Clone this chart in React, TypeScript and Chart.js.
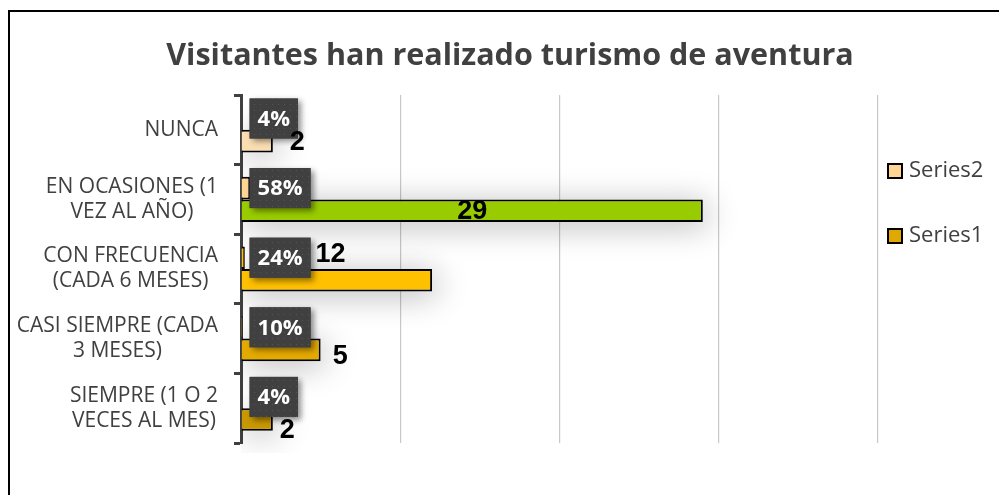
import { useEffect, useRef } from "react";
import { Chart, registerables } from "chart.js";

Chart.register(...registerables);

const chartTitle = "Visitantes han realizado turismo de aventura";
const categories: string[][] = [
  ["NUNCA"],
  ["EN OCASIONES (1", "VEZ AL AÑO)"],
  ["CON FRECUENCIA", "(CADA 6 MESES)"],
  ["CASI SIEMPRE (CADA", "3 MESES)"],
  ["SIEMPRE (1 O 2", "VECES AL MES)"],
];
const series1Name = "Series1";
const series2Name = "Series2";
const series1Values = [2, 29, 12, 5, 2];
const series2Values = [0.04, 0.58, 0.24, 0.1, 0.04];
const series1Colors = ["#FBDDB2", "#99CC00", "#FFC000", "#E5AA00", "#C99700"];
const series2Colors = ["#FFD594", "#FFD594", "#FFC000", "#E5AA00", "#C99700"];
const legendColors = ["#FFD594", "#E0A800"];
const xMax = 40;
const xStep = 10;

// label placement styles for series1 value labels: [anchor, dx, dy]
const s1LabelStyle: [string, number, number][] = [
  ["end", 17, 0],
  ["center", 0, 0],
  ["base", 74, -27],
  ["end", 12, 6],
  ["end", 7, 10],
];

const LABEL_FONT = "'Open Sans', sans-serif";

function makeDotPattern(ctx: CanvasRenderingContext2D) {
  const c = document.createElement("canvas");
  c.width = 6;
  c.height = 6;
  const p = c.getContext("2d")!;
  p.fillStyle = "#404040";
  p.fillRect(0, 0, 6, 6);
  p.fillStyle = "#555555";
  p.fillRect(2, 2, 1, 1);
  return ctx.createPattern(c, "repeat");
}

const customPlugin = {
  id: "custom",
  beforeDatasetsDraw(chart: any) {
    const ctx = chart.ctx as CanvasRenderingContext2D;
    const area = chart.chartArea;
    ctx.save();
    ctx.beginPath();
    ctx.rect(area.left, area.top - 10, area.right - area.left + 60, area.bottom - area.top + 20);
    ctx.clip();
    const off = 5000;
    ctx.shadowColor = "rgba(0,0,0,0.30)";
    ctx.shadowBlur = 32;
    ctx.shadowOffsetX = off + 4;
    ctx.shadowOffsetY = 4;
    ctx.fillStyle = "#000";
    [0, 1].forEach((d) => {
      chart.getDatasetMeta(d).data.forEach((el: any) => {
        const h = el.height;
        ctx.fillRect(el.base - off, el.y - h / 2, el.x - el.base, h);
      });
    });
    ctx.restore();
  },
  afterDatasetsDraw(chart: any) {
    const ctx = chart.ctx as CanvasRenderingContext2D;
    const area = chart.chartArea;

    // title
    ctx.save();
    ctx.fillStyle = "#404040";
    ctx.font = `bold 30.5px ${LABEL_FONT}`;
    ctx.textAlign = "center";
    ctx.textBaseline = "middle";
    ctx.fillText(chartTitle, 510, 56);
    ctx.restore();

    // category labels
    const yScale = chart.scales.y;
    ctx.save();
    ctx.fillStyle = "#404040";
    ctx.font = `21px ${LABEL_FONT}`;
    ctx.textAlign = "center";
    ctx.textBaseline = "middle";
    const lineH = 25;
    categories.forEach((lines, i) => {
      const cy = yScale.getPixelForValue(i);
      const w = Math.max(...lines.map((l) => ctx.measureText(l).width));
      const cx = area.left - 23 - w / 2;
      lines.forEach((l, j) => {
        ctx.fillText(l, cx, cy + (j - (lines.length - 1) / 2) * lineH);
      });
    });
    ctx.restore();

    // series2 percent boxes
    const pattern = makeDotPattern(ctx);
    const meta2 = chart.getDatasetMeta(0);
    meta2.data.forEach((el: any, i: number) => {
      const txt = `${Math.round(series2Values[i] * 100)}%`;
      ctx.save();
      ctx.font = `bold 22px ${LABEL_FONT}`;
      const tw = ctx.measureText(txt).width;
      const bw = tw + 16;
      const bh = 40;
      const bx = el.base + 8;
      const by = el.y - bh / 2;
      ctx.shadowColor = "rgba(0,0,0,0.45)";
      ctx.shadowBlur = 6;
      ctx.shadowOffsetX = 3;
      ctx.shadowOffsetY = 3;
      ctx.fillStyle = "#404040";
      ctx.fillRect(bx, by, bw, bh);
      ctx.shadowColor = "transparent";
      if (pattern) {
        ctx.fillStyle = pattern;
        ctx.fillRect(bx, by, bw, bh);
      }
      ctx.fillStyle = "#ffffff";
      ctx.textAlign = "center";
      ctx.textBaseline = "middle";
      ctx.fillText(txt, bx + bw / 2, el.y + 1);
      ctx.restore();
    });

    // series1 value labels
    const meta1 = chart.getDatasetMeta(1);
    meta1.data.forEach((el: any, i: number) => {
      const [anchor, dx, dy] = s1LabelStyle[i];
      const txt = String(series1Values[i]);
      ctx.save();
      ctx.font = `bold 27px 'Liberation Sans', Arial, sans-serif`;
      ctx.fillStyle = "#000000";
      ctx.textBaseline = "middle";
      if (anchor === "center") {
        ctx.textAlign = "center";
        ctx.fillText(txt, (el.base + el.x) / 2 + dx, el.y + dy + 1);
      } else if (anchor === "base") {
        ctx.textAlign = "left";
        ctx.fillText(txt, el.base + dx, el.y + dy + 1);
      } else {
        ctx.textAlign = "left";
        ctx.fillText(txt, el.x + dx, el.y + dy + 1);
      }
      ctx.restore();
    });

    // legend
    const names = [series2Name, series1Name];
    ctx.save();
    ctx.font = `22px ${LABEL_FONT}`;
    ctx.textBaseline = "middle";
    ctx.textAlign = "left";
    names.forEach((n, i) => {
      const cy = area.top + 76 + i * 65;
      const bx = area.right + 10;
      ctx.fillStyle = legendColors[i];
      ctx.fillRect(bx, cy - 7, 14, 14);
      ctx.strokeStyle = "#000";
      ctx.lineWidth = 2;
      ctx.strokeRect(bx, cy - 7, 14, 14);
      ctx.fillStyle = "#404040";
      ctx.fillText(n, bx + 21, cy);
    });
    ctx.restore();
  },
};

export default function App() {
  const ref = useRef<HTMLCanvasElement | null>(null);
  useEffect(() => {
    if (!ref.current) return;
    const chart = new Chart(ref.current, {
      type: "bar",
      data: {
        labels: categories.map((c) => c.join(" ")),
        datasets: [
          {
            label: series2Name,
            data: series2Values,
            backgroundColor: series2Colors,
            borderColor: "#000000",
            borderWidth: 2,
            categoryPercentage: 0.65,
            barPercentage: 1,
          },
          {
            label: series1Name,
            data: series1Values,
            backgroundColor: series1Colors,
            borderColor: "#000000",
            borderWidth: 2,
            categoryPercentage: 0.65,
            barPercentage: 1,
          },
        ],
      },
      options: {
        indexAxis: "y",
        animation: false,
        responsive: false,
        maintainAspectRatio: false,
        layout: { padding: { left: 10, right: 121, top: 95, bottom: 52 } },
        plugins: {
          legend: { display: false },
          title: { display: false },
          tooltip: { enabled: false },
        },
        scales: {
          x: {
            min: 0,
            max: xMax,
            ticks: { display: false, stepSize: xStep },
            grid: { color: "#c8c8c8", lineWidth: 1.2, drawTicks: false },
            border: { display: false },
          },
          y: {
            ticks: { display: false },
            grid: {
              display: true,
              offset: true,
              drawOnChartArea: false,
              drawTicks: true,
              tickLength: 7,
              tickWidth: 3,
              color: "#404040",
            },
            border: { display: true, color: "#404040", width: 3 },
            afterFit: (scale: any) => {
              scale.width = 231;
            },
          },
        },
      },
      plugins: [customPlugin],
    });
    return () => chart.destroy();
  }, []);

  return (
    <div
      style={{
        position: "absolute",
        left: 0,
        top: 0,
        width: 999,
        height: 495,
        overflow: "hidden",
        background: "#ffffff",
      }}
    >
      <div
        style={{
          position: "absolute",
          left: 25,
          top: -17,
          fontFamily: "'Open Sans', sans-serif",
          fontSize: 16,
          color: "#888",
          whiteSpace: "nowrap",
        }}
      >
        Visitantes han realizado turismo de aventura
      </div>
      <div
        style={{
          position: "absolute",
          left: 8,
          top: 10,
          width: 1100,
          height: 600,
          border: "2px solid #000",
          boxSizing: "border-box",
        }}
      />
      <canvas
        ref={ref}
        width={999}
        height={495}
        style={{ position: "absolute", left: 0, top: 0, width: 999, height: 495 }}
      />
    </div>
  );
}
